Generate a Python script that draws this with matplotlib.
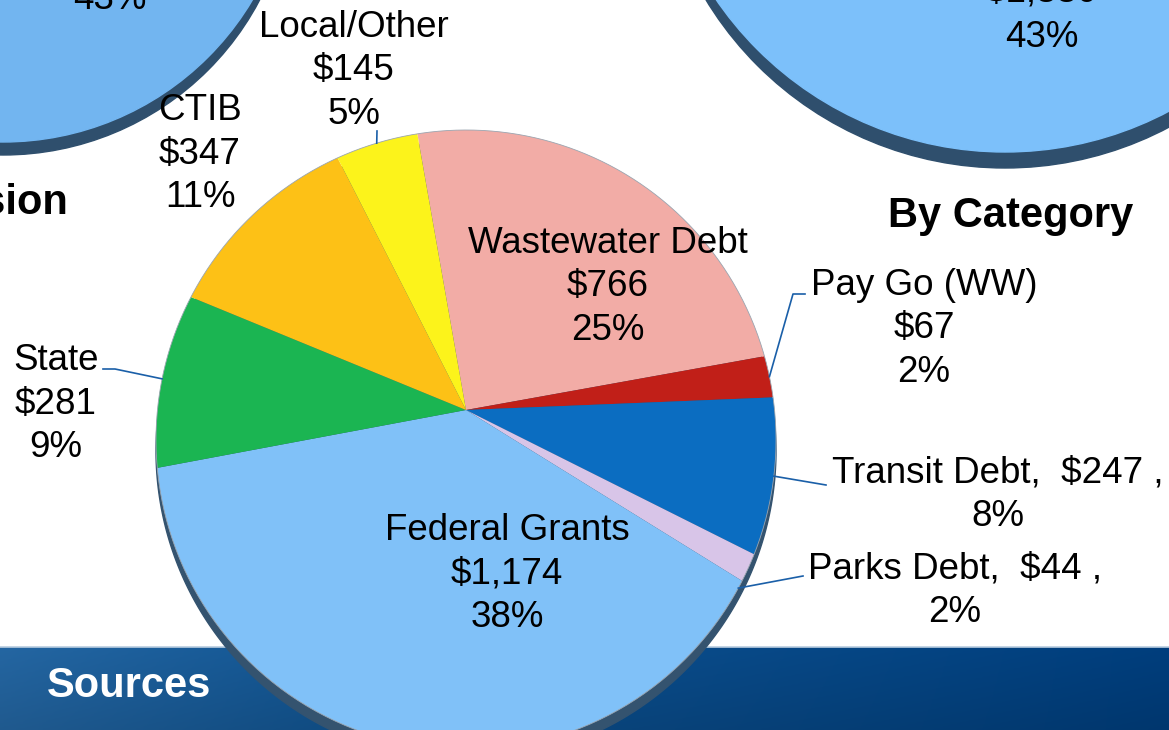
import numpy as np
import matplotlib.pyplot as plt
from matplotlib.patches import Circle
from matplotlib.colors import to_rgb

plt.rcParams['font.family'] = ['Liberation Sans', 'DejaVu Sans']

# data
categories = ['Wastewater Debt', 'Pay Go (WW)', 'Transit Debt', 'Parks Debt',
              'Federal Grants', 'State', 'CTIB', 'Local/Other']
amounts = [766, 67, 247, 44, 1174, 281, 347, 145]
pct_labels = ['25%', '2%', '8%', '2%', '38%', '9%', '11%', '5%']
colors = ['#f2aca6', '#c11f18', '#0b6dc1', '#d8c5e8',
          '#80c1f8', '#1bb552', '#fdc116', '#fcf31b']

# partial pies of the neighbouring charts (only one slice label visible)
left_pie_pct = '43%'
right_pie_amt = '$1,330'
right_pie_pct = '43%'

W, H = 1169, 730
fig = plt.figure(figsize=(W / 100, H / 100), dpi=100)
ax = fig.add_axes([0, 0, 1, 1])
ax.set_xlim(0, W)
ax.set_ylim(H, 0)
ax.axis('off')

FS = 26.5
LS = 1.32

# --- blue banner at the bottom
top_band = 647
xs = np.linspace(0, 1, 300)
c_left, c_mid, c_right = [np.array(to_rgb(c)) for c in ('#2466a2', '#0e5290', '#003e7d')]
row = np.where(xs[:, None] < 0.35,
               c_left + (c_mid - c_left) * (xs[:, None] / 0.35),
               c_mid + (c_right - c_mid) * ((xs[:, None] - 0.35) / 0.65))
shade = np.linspace(1.0, 0.88, 40)[:, None, None]
grad = row[None, :, :] * shade
ax.imshow(grad, extent=[0, W, H, top_band], aspect='auto', zorder=1)
ax.plot([0, W], [top_band, top_band], color='#b9cde0', lw=1.2, zorder=2)
ax.text(47, 697, 'Sources', color='white', fontsize=30, fontweight='bold',
        ha='left', va='baseline', zorder=3)

# --- neighbouring pies, cut by the slide edges
ax.add_patch(Circle((3, -135), 290, color='#2f4f6d', zorder=2))
ax.add_patch(Circle((3, -148), 290, color='#72b5f0', zorder=3))
ax.text(110, 9, left_pie_pct, fontsize=FS, ha='center', va='baseline', zorder=4)
ax.add_patch(Circle((1005, -182), 350, color='#2f4f6d', zorder=2))
ax.add_patch(Circle((1005, -198), 350, color='#7cc0fa', zorder=3))
ax.text(1042, 2, right_pie_amt, fontsize=FS, ha='center', va='baseline', zorder=4)
ax.text(1042, 47, right_pie_pct, fontsize=FS, ha='center', va='baseline', zorder=4)
ax.text(68, 214, 'By Division', fontsize=30, fontweight='bold',
        ha='right', va='baseline', zorder=4)
ax.text(1011, 227, 'By Category', fontsize=30, fontweight='bold',
        ha='center', va='baseline', zorder=4)

# --- main pie: slices meet at an apex that sits above the rim centre (3D tilt)
VX, VY = 466, 410
EX, EY = 466, 440
R = 310


def rim(theta_deg, dy=0.0):
    th = np.radians(np.asarray(theta_deg, dtype=float))
    wx, wy = np.cos(th), -np.sin(th)
    px, py = VX - EX, VY - EY
    qb = 2 * (px * wx + py * wy)
    qc = px ** 2 + py ** 2 - R ** 2
    t = (-qb + np.sqrt(qb ** 2 - 4 * qc)) / 2
    return VX + t * wx, VY + t * wy + dy


frac = np.array(amounts) / np.sum(amounts)
edges = 100 - 360 * np.concatenate([[0], np.cumsum(frac)])

sx, sy = rim(np.linspace(0, 360, 400), dy=11)
ax.fill(sx, sy, color='#34536f', zorder=5)
for i, c in enumerate(colors):
    th = np.linspace(edges[i], edges[i + 1], 120)
    px, py = rim(th)
    ax.fill(np.r_[VX, px], np.r_[VY, py], color=c, ec='none', zorder=6)
ox, oy = rim(np.linspace(0, 360, 400))
ax.plot(ox, oy, color='#9aa5b0', lw=0.6, zorder=7)

# --- labels
label_txt = []
for name, amt, p in zip(categories, amounts, pct_labels):
    if name in ('Transit Debt', 'Parks Debt'):
        label_txt.append(f'{name},  ${amt:,} ,\n{p}')
    else:
        label_txt.append(f'{name}\n${amt:,}\n{p}')

label_pos = [(608, 287), (924, 329), (998, 495), (955, 591),
             (507, 574), (56, 404), (200, 154), (354, 71)]
for txt, (x, y) in zip(label_txt, label_pos):
    ax.text(x, y, txt, fontsize=FS, ha='center', va='center',
            linespacing=LS, zorder=9)

# leader lines: from the slice rim to the label
mid = (edges[:-1] + edges[1:]) / 2
leaders = {1: [(793, 294), (805, 294)],
           2: [(826, 485)],
           3: [(803, 576)],
           5: [(115, 369), (103, 369)],
           7: [(377, 131)]}
for i, pts in leaders.items():
    rx, ry = rim(mid[i] - (4 if i == 3 else 0))
    lx = [float(rx)] + [p[0] for p in pts]
    ly = [float(ry)] + [p[1] for p in pts]
    ax.plot(lx, ly, color='#1a5fa8', lw=1.2, zorder=8)

fig.savefig('out.png', dpi=100)
